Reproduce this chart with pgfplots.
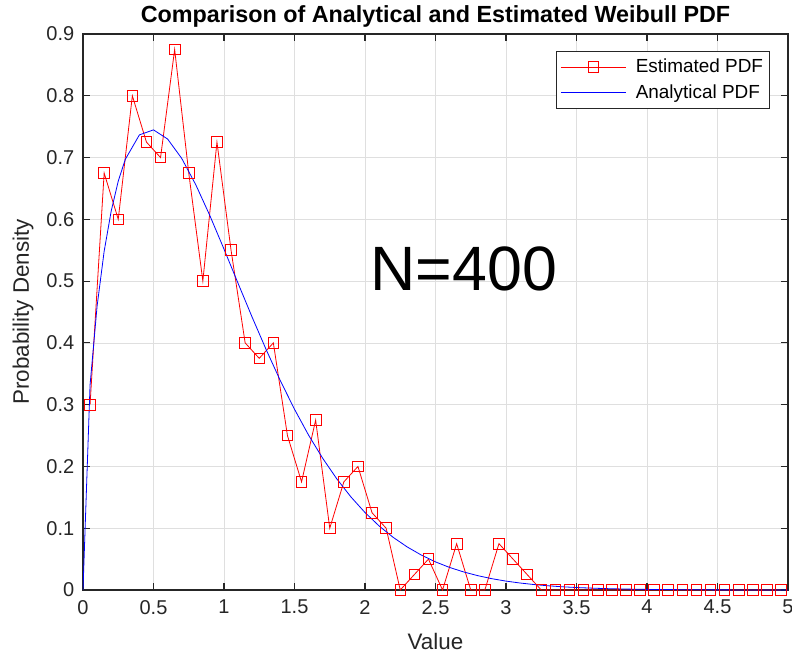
\documentclass[border=0pt]{standalone}
\usepackage{fontspec}
\setmainfont{Liberation Sans}
\usepackage{pgfplots}
\pgfplotsset{compat=1.18}
\definecolor{axisgray}{RGB}{38,38,38}
\definecolor{gridgray}{RGB}{223,223,223}
\begin{document}
\begin{tikzpicture}
\useasboundingbox (-62.25pt,-50.25pt) rectangle (531.75pt,442.5pt);
\begin{axis}[
    at={(0,0)}, anchor=south west,
    scale only axis, width=528.75pt, height=417pt,
    xmin=0, xmax=5, ymin=0, ymax=0.9,
    xtick={0,0.5,1,1.5,2,2.5,3,3.5,4,4.5,5},
    ytick={0,0.1,0.2,0.3,0.4,0.5,0.6,0.7,0.8,0.9},
    /pgf/number format/assume math mode=true,
    tick label style={font=\fontsize{15}{17}\selectfont, text=axisgray},
    xticklabel style={yshift=-4pt},
    yticklabel style={xshift=-3pt},
    tick align=inside, major tick length=5pt,
    every tick/.style={axisgray, line width=0.8pt},
    axis line style={axisgray, line width=0.8pt},
    grid=major, major grid style={gridgray, line width=0.5pt},
    title={Comparison of Analytical and Estimated Weibull PDF},
    every axis title/.style={at={(0.5,1)}, anchor=center, yshift=13.5pt,
        font=\bfseries\fontsize{17.5}{20}\selectfont},
    xlabel={Value}, ylabel={Probability Density},
    label style={font=\fontsize{16.8}{19}\selectfont, text=axisgray},
    xlabel style={at={(axis description cs:0.5,-0.0935)}, anchor=center},
    ylabel style={at={(axis description cs:-0.0851,0.5)}, anchor=center},
    legend style={at={(axis description cs:1,1)}, anchor=north east, xshift=-13.5pt, yshift=-12.75pt,
        draw=axisgray, fill=white, font=\fontsize{14.2}{16}\selectfont, row sep=3pt,
        inner xsep=3pt, inner ysep=4pt},
    legend cell align=left,
    legend image code/.code={
        \draw[mark repeat=2, mark phase=2] plot coordinates {(0cm,0cm) (0.86cm,0cm) (1.72cm,0cm)};},
]
\addplot[red, line width=0.6pt, mark=square, mark size=4pt, mark options={solid, fill=none}] coordinates {
(0.05,0.3) (0.15,0.675) (0.25,0.6) (0.35,0.8) (0.45,0.725) (0.55,0.7) (0.65,0.875) (0.75,0.675)
(0.85,0.5) (0.95,0.725) (1.05,0.55) (1.15,0.4) (1.25,0.375) (1.35,0.4) (1.45,0.25) (1.55,0.175)
(1.65,0.275) (1.75,0.1) (1.85,0.175) (1.95,0.2) (2.05,0.125) (2.15,0.1) (2.25,0) (2.35,0.025)
(2.45,0.05) (2.55,0) (2.65,0.075) (2.75,0) (2.85,0) (2.95,0.075) (3.05,0.05) (3.15,0.025)
(3.25,0) (3.35,0) (3.45,0) (3.55,0) (3.65,0) (3.75,0) (3.85,0) (3.95,0) (4.05,0) (4.15,0)
(4.25,0) (4.35,0) (4.45,0) (4.55,0) (4.65,0) (4.75,0) (4.85,0) (4.95,0)
};
\addlegendentry{\hspace{5pt}Estimated PDF}
\addplot[blue, line width=0.6pt] coordinates {
(0,0) (0.05,0.3317) (0.1,0.4596) (0.15,0.5482) (0.2,0.6134) (0.25,0.6619) (0.3,0.6971)
(0.4,0.7367) (0.5,0.7448) (0.6,0.7300) (0.7,0.6987) (0.8,0.6559) (0.9,0.6059) (1.0,0.5518)
(1.1,0.4963) (1.2,0.4414) (1.3,0.3886) (1.4,0.3386) (1.5,0.2926) (1.6,0.2506) (1.7,0.2132)
(1.8,0.1799) (1.9,0.1507) (2.0,0.1254) (2.1,0.1037) (2.2,0.0852) (2.3,0.0696) (2.4,0.0565)
(2.5,0.0455) (2.6,0.0365) (2.7,0.0292) (2.8,0.0232) (2.9,0.0183) (3.0,0.0144) (3.1,0.0113)
(3.2,0.0088) (3.3,0.0068) (3.4,0.0052) (3.5,0.0040) (3.6,0.0031) (3.7,0.0023) (3.8,0.0018)
(3.9,0.0013) (4.0,0.0010) (4.25,0.0005) (4.5,0.0002) (4.75,0.0001) (5,0.00005)
};
\addlegendentry{\hspace{5pt}Analytical PDF}
\node[font=\fontsize{47}{50}\selectfont, text=black] at (axis cs:2.70,0.52) {N=400};
\end{axis}
\end{tikzpicture}
\end{document}
